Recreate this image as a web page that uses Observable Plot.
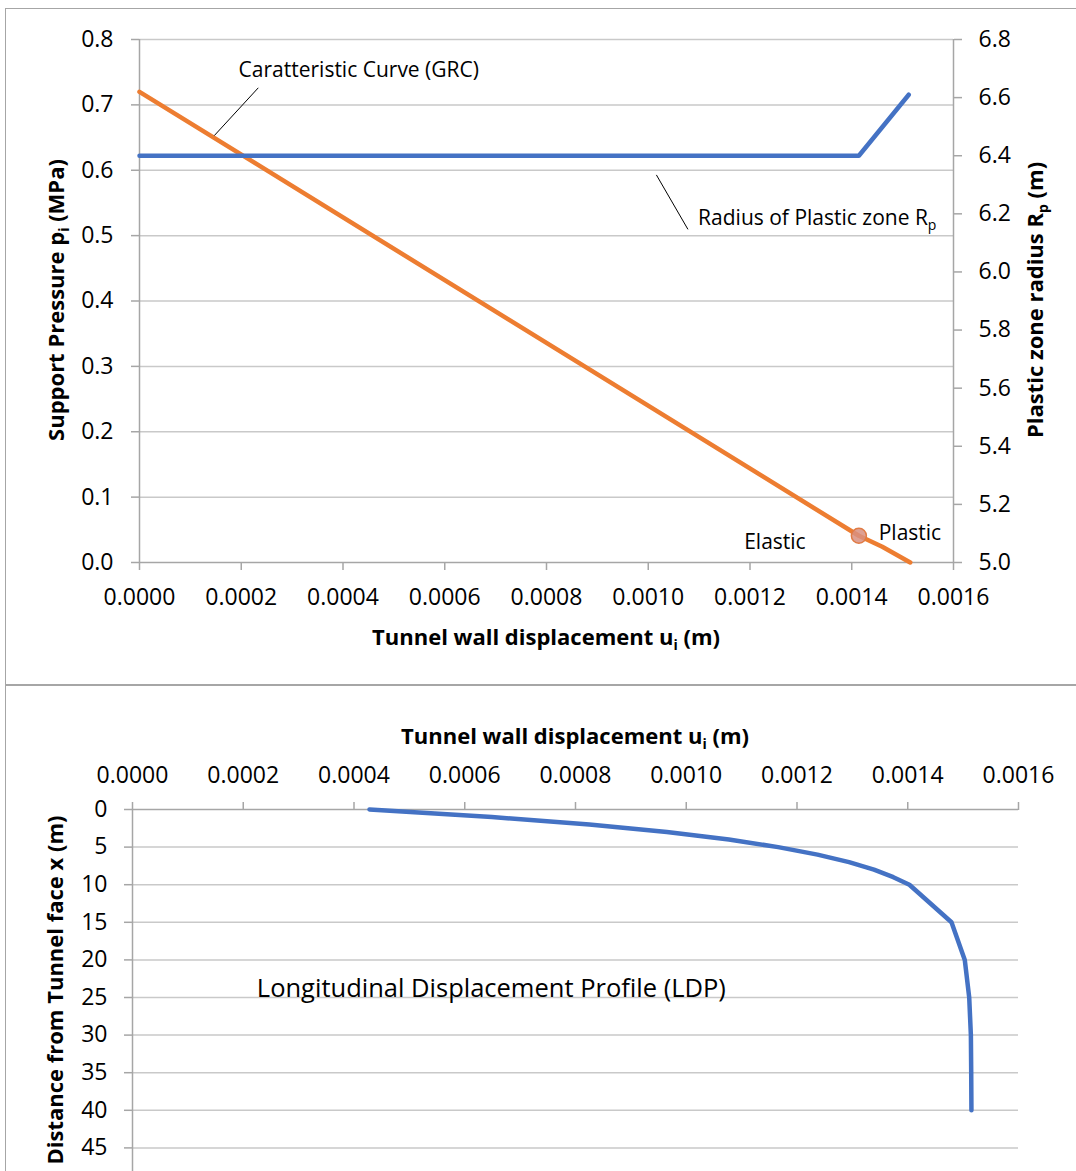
<!DOCTYPE html>
<html><head><meta charset="utf-8">
<script src="https://cdn.jsdelivr.net/npm/d3@7"></script>
<script src="https://cdn.jsdelivr.net/npm/@observablehq/plot@0.6"></script>
<style>
html,body{margin:0;padding:0;background:#fff;width:1076px;height:1171px;overflow:hidden;}
#wrap{position:relative;width:1076px;height:1171px;overflow:hidden;}
.frame{position:absolute;border:1.5px solid #a6a6a6;box-sizing:border-box;}
#top{position:absolute;left:0;top:0;}
#bot{position:absolute;left:0;top:685px;}
svg{font-family:'Open Sans',sans-serif;}
</style></head><body>
<div id="wrap">
<div class="frame" style="left:5px;top:8px;width:1200px;height:678px"></div>
<div class="frame" style="left:5px;top:684px;width:1200px;height:600px"></div>
<div id="top"></div><div id="bot"></div>
</div>
<script>
// ---------- data: Ground Reaction Curve (GRC) ----------
const grcU = [0, 0.001414, 0.00146, 0.001515];
const grcP = [0.72, 0.0409, 0.024, 0];
// plastic zone radius (secondary axis)
const rpU = [0, 0.001414, 0.001512];
const rpR = [6.4, 6.4, 6.61];
// elastic/plastic transition point
const transU = [0.001414];
const transP = [0.0409];
// tick values
const xTicks = [0, 0.0002, 0.0004, 0.0006, 0.0008, 0.0010, 0.0012, 0.0014, 0.0016];
const pTicks = [0, 0.1, 0.2, 0.3, 0.4, 0.5, 0.6, 0.7, 0.8];
const rTicks = [5.0, 5.2, 5.4, 5.6, 5.8, 6.0, 6.2, 6.4, 6.6, 6.8];
// annotations (data space)
const annoText = ["Caratteristic Curve (GRC)", "Radius of Plastic zone R", "Elastic", "Plastic"];
const annoU = [0.000431, 0.001098, 0.001249, 0.001453];
const annoP = [0.7525, 0.526, 0.0306, 0.0444];
const annoAnchor = ["middle", "start", "middle", "start"];
const leaderU1 = [0.0002335, 0.001016];
const leaderP1 = [0.7261, 0.5929];
const leaderU2 = [0.000147, 0.001078];
const leaderP2 = [0.653, 0.5096];

// ---------- data: Longitudinal Displacement Profile (LDP) ----------
const ldpX = [0, 1, 2, 3, 4, 5, 6, 7, 8, 9, 10, 15, 20, 25, 30, 35, 40];
const ldpU = [0.000428, 0.000649, 0.000825, 0.000965, 0.001077, 0.001166, 0.001237, 0.001294,
              0.001339, 0.001374, 0.001403, 0.001479, 0.001503, 0.001511, 0.001514, 0.0015146, 0.001515];
const ldpTicks = [0, 5, 10, 15, 20, 25, 30, 35, 40, 45];
const ldpLabelU = [0.000648];
const ldpLabelX = [23.8];
const ldpLabel = ["Longitudinal Displacement Profile (LDP)"];

const ORANGE = "#ED7D31", BLUE = "#4472C4", GRID = "#c9c9c9", AXIS = "#a6a6a6";
const FONT = "'Open Sans', sans-serif";
const fmtX = d3.format(".4f");

// map plastic radius onto the pressure scale (secondary axis)
const toP = r => (r - 5) / 1.8 * 0.8;
const fromP = p => p / 0.8 * 1.8 + 5;

const grc = grcU.map((u, i) => ({u, p: grcP[i]}));
const rp = rpU.map((u, i) => ({u, r: rpR[i]}));
const trans = transU.map((u, i) => ({u, p: transP[i]}));
const anno = annoText.map((t, i) => ({t, u: annoU[i], p: annoP[i], a: annoAnchor[i]}));
const leaders = leaderU1.map((u, i) => ({u1: u, p1: leaderP1[i], u2: leaderU2[i], p2: leaderP2[i]}));

const topPlot = Plot.plot({
  width: 1076, height: 685,
  marginLeft: 139, marginRight: 123, marginTop: 39, marginBottom: 123,
  style: {fontFamily: FONT, fontSize: "23px", color: "#000", background: "transparent"},
  x: {domain: [0, 0.0016]},
  y: {domain: [0, 0.8]},
  marks: [
    Plot.ruleY(pTicks.slice(1), {stroke: GRID, strokeWidth: 1.5}),
    Plot.ruleY([0], {stroke: AXIS, strokeWidth: 1.5}),
    Plot.ruleX([0, 0.0016], {stroke: AXIS, strokeWidth: 1.5}),
    Plot.axisX({ticks: xTicks, tickFormat: fmtX, tickSize: 8, tickPadding: 18, stroke: AXIS, strokeWidth: 1.5, fill: "#000", label: null}),
    Plot.axisY({ticks: pTicks, tickFormat: d3.format(".1f"), tickSize: 8, tickPadding: 18, stroke: AXIS, strokeWidth: 1.5, fill: "#000", label: null}),
    Plot.axisY({anchor: "right", ticks: rTicks.map(toP), tickFormat: d => fromP(d).toFixed(1), tickSize: 8, tickPadding: 17, stroke: AXIS, strokeWidth: 1.5, fill: "#000", label: null}),
    Plot.line(grc, {x: "u", y: "p", stroke: ORANGE, strokeWidth: 4.5, strokeLinecap: "round", strokeLinejoin: "round"}),
    Plot.line(rp, {x: "u", y: d => toP(d.r), stroke: BLUE, strokeWidth: 4.5, strokeLinecap: "round", strokeLinejoin: "round"}),
    Plot.dot(trans, {x: "u", y: "p", r: 7.5, fill: "#d88f80", fillOpacity: 0.85, stroke: "#e07b45", strokeWidth: 1.5}),
    Plot.link(leaders, {x1: "u1", y1: "p1", x2: "u2", y2: "p2", stroke: "#000", strokeWidth: 1}),
    Plot.text(anno, {x: "u", y: "p", text: "t", fontSize: 21, fill: "#000"})
  ]
});
document.getElementById("top").appendChild(topPlot);

const ldp = ldpX.map((x, i) => ({x, u: ldpU[i]}));
const botPlot = Plot.plot({
  width: 1076, height: 520,
  marginLeft: 132, marginRight: 58, marginTop: 124, marginBottom: 20,
  style: {fontFamily: FONT, fontSize: "23px", color: "#000", background: "transparent"},
  x: {domain: [0, 0.0016]},
  y: {domain: [0, 50], reverse: true},
  marks: [
    Plot.ruleY(ldpTicks.slice(1).concat([50]), {stroke: GRID, strokeWidth: 1.5}),
    Plot.ruleY([0], {stroke: AXIS, strokeWidth: 1.5}),
    Plot.ruleX([0], {stroke: AXIS, strokeWidth: 1.5}),
    Plot.axisX({anchor: "top", ticks: xTicks, tickFormat: fmtX, tickSize: 8, tickPadding: 19, stroke: AXIS, strokeWidth: 1.5, fill: "#000", label: null}),
    Plot.axisY({ticks: ldpTicks, tickFormat: d3.format("d"), tickSize: 8, tickPadding: 17, stroke: AXIS, strokeWidth: 1.5, fill: "#000", label: null}),
    Plot.line(ldp, {x: "u", y: "x", stroke: BLUE, strokeWidth: 4.5, strokeLinecap: "round", strokeLinejoin: "round"}),
    Plot.text(ldpLabelU.map((u, i) => ({u, x: ldpLabelX[i], t: ldpLabel[i]})), {x: "u", y: "x", text: "t", fontSize: 25.5, fill: "#000"})
  ]
});
document.getElementById("bot").appendChild(botPlot);

// annotation anchors and subscripts
d3.select(topPlot).selectAll("text").each(function() {
  const s = this.textContent;
  const i = annoText.indexOf(s);
  if (i >= 0) {
    d3.select(this).attr("text-anchor", annoAnchor[i]);
    if (s === "Radius of Plastic zone R") {
      d3.select(this).append("tspan").attr("dy", 5).attr("font-size", 14).text("p");
    }
  }
});

function addTitle(svg, x, y, rot, parts) {
  const t = d3.select(svg).append("text")
    .attr("transform", `translate(${x},${y})` + (rot ? ` rotate(${rot})` : ""))
    .attr("text-anchor", "middle").attr("font-weight", "bold").attr("font-size", 22)
    .attr("fill", "#000").attr("font-family", FONT);
  let shifted = false;
  parts.forEach(([s, sub]) => {
    const ts = t.append("tspan").text(s);
    if (sub) { ts.attr("font-size", 14).attr("dy", 5); shifted = true; }
    else if (shifted) { ts.attr("dy", -5); shifted = false; }
  });
}
addTitle(topPlot, 546, 645, 0, [["Tunnel wall displacement u"], ["i", 1], [" (m)"]]);
addTitle(topPlot, 64, 300, -90, [["Support Pressure p"], ["i", 1], [" (MPa)"]]);
addTitle(topPlot, 1043, 300, -90, [["Plastic zone radius R"], ["p", 1], [" (m)"]]);
addTitle(botPlot, 575, 59, 0, [["Tunnel wall displacement u"], ["i", 1], [" (m)"]]);
addTitle(botPlot, 63, 305, -90, [["Distance from Tunnel face x (m)"]]);
</script>
</body></html>
